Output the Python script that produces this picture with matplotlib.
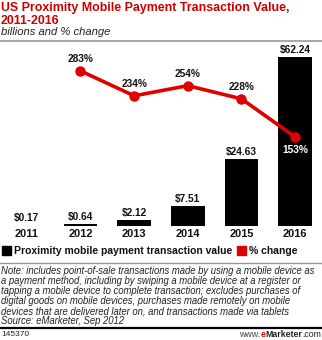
import matplotlib
matplotlib.use("Agg")
import matplotlib.pyplot as plt
from matplotlib.lines import Line2D
from matplotlib.patches import Rectangle

years = ["2011", "2012", "2013", "2014", "2015", "2016"]
values = [0.17, 0.64, 2.12, 7.51, 24.63, 62.24]
value_labels = ["$0.17", "$0.64", "$2.12", "$7.51", "$24.63", "$62.24"]
pct_years = [1, 2, 3, 4, 5]
pct_change = [283, 234, 254, 228, 153]

title = "US Proximity Mobile Payment Transaction Value,\n2011-2016"
subtitle = "billions and % change"
legend_labels = ["Proximity mobile payment transaction value", "% change"]
note = ("Note: includes point-of-sale transactions made by using a mobile device as\n"
        "a payment method, including by swiping a mobile device at a register or\n"
        "tapping a mobile device to complete transaction; excludes purchases of\n"
        "digital goods on mobile devices, purchases made remotely on mobile\n"
        "devices that are delivered later on, and transactions made via tablets\n"
        "Source: eMarketer, Sep 2012")
chart_id = "145370"

RED = "#e00000"
TITLE_RED = "#cc0000"
W, H = 322, 340

plt.rcParams['font.family'] = ['Liberation Sans', 'DejaVu Sans']
fig = plt.figure(figsize=(W / 100, H / 100), dpi=100)

def fy(py):
    return 1 - py / H

def fx(px):
    return px / W

# header
fig.text(fx(1), fy(2.5), title, color=TITLE_RED, fontsize=8.9, fontweight="bold",
         va="top", ha="left", linespacing=1.02)
fig.text(fx(1), fy(27), subtitle, color="#222222", fontsize=8.1, style="italic",
         va="top", ha="left")
fig.add_artist(Line2D([0, 1], [fy(40.5), fy(40.5)], color="#999999", lw=1.2))

# main plot
ax = fig.add_axes([0, fy(226), 1, (226 - 44) / H])
x = list(range(len(years)))
ax.bar(x, values, width=0.63, color="black", zorder=2)
ax.set_xlim(-0.5, 5.5)
ax.set_ylim(0, 67.0)
for xi, v, lab in zip(x, values, value_labels):
    ax.annotate(lab, (xi, v), xytext=(0, 1.5), textcoords="offset points",
                ha="center", va="bottom", fontsize=7.3, fontweight="bold", color="#111111")
for s in ax.spines.values():
    s.set_visible(False)
ax.set_xticks(x)
ax.set_xticklabels(years, fontsize=7.9, fontweight="bold", color="#111111")
ax.tick_params(axis="x", length=0, pad=2)
ax.set_yticks([])

ax2 = ax.twinx()
ax2.plot(pct_years, pct_change, color=RED, lw=2.6, marker="o", markersize=6.5,
         zorder=3, solid_capstyle="round")
ax2.set_ylim(-22.3, 336)
ax2.set_yticks([])
for s in ax2.spines.values():
    s.set_visible(False)
for xi, p in zip(pct_years, pct_change):
    if xi == 5:
        ax2.annotate(f"{p}%", (xi, p), xytext=(0, -6), textcoords="offset points",
                     ha="center", va="top", fontsize=7.3, fontweight="bold", color="white")
    else:
        ax2.annotate(f"{p}%", (xi, p), xytext=(0, 5), textcoords="offset points",
                     ha="center", va="bottom", fontsize=7.3, fontweight="bold", color="#111111")

# legend
fig.add_artist(Rectangle((fx(2), fy(255)), fx(9), 9 / H, color="black"))
fig.text(fx(14), fy(250.5), legend_labels[0], fontsize=7.5, fontweight="bold",
         va="center", ha="left", color="#111111")
fig.add_artist(Rectangle((fx(237), fy(255)), fx(9), 9 / H, color=RED))
fig.text(fx(249), fy(250.5), legend_labels[1], fontsize=7.5, fontweight="bold",
         va="center", ha="left", color="#111111")
fig.add_artist(Line2D([0, 1], [fy(263), fy(263)], color="#999999", lw=1.0))

# notes
fig.text(fx(1), fy(266.5), note, fontsize=6.88, style="italic", color="#222222",
         va="top", ha="left", linespacing=1.0)
fig.add_artist(Line2D([0, 1], [fy(327.5), fy(327.5)], color="black", lw=1.6))
fig.text(fx(1), fy(334.5), chart_id, fontsize=6, color="#222222", va="center", ha="left")

# footer brand, built right to left
fig.canvas.draw()
right = fx(321)
for part, color, weight in [(".com", "#222222", "normal"), ("Marketer", "#222222", "bold"),
                            ("e", RED, "bold"), ("www.", "#444444", "normal")]:
    t = fig.text(right, fy(334.5), part, fontsize=6.3, color=color, fontweight=weight,
                 va="center", ha="right")
    right = t.get_window_extent(renderer=fig.canvas.get_renderer()).x0 / W

fig.savefig("out.png", dpi=100)
